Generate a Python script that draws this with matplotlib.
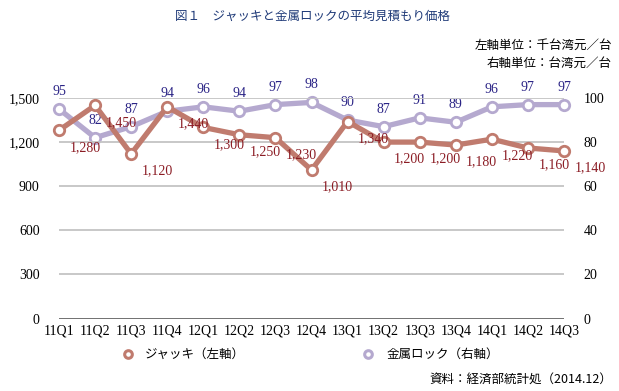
import matplotlib
matplotlib.use('Agg')
import matplotlib.pyplot as plt

plt.rcParams['font.family'] = ['Liberation Serif', 'Noto Sans CJK JP']

quarters = ['11Q1', '11Q2', '11Q3', '11Q4', '12Q1', '12Q2', '12Q3', '12Q4',
            '13Q1', '13Q2', '13Q3', '13Q4', '14Q1', '14Q2', '14Q3']
jack = [1280, 1450, 1120, 1440, 1300, 1250, 1230, 1010,
        1340, 1200, 1200, 1180, 1220, 1160, 1140]
lock = [95, 82, 87, 94, 96, 94, 97, 98, 90, 87, 91, 89, 96, 97, 97]

jack_col = '#c07b6e'
lock_col = '#b5a9cf'
jack_txt = '#8b1c24'
lock_txt = '#2b2486'

fig = plt.figure(figsize=(6.19, 3.91), dpi=100)
ax = fig.add_axes([59/619, 1-318.5/391, 505/619, 220.5/391])
ax2 = ax.twinx()

x = list(range(len(quarters)))

ax.set_zorder(ax2.get_zorder() + 1)
ax.patch.set_visible(False)

ax2.plot(x, lock, color=lock_col, lw=3.8, marker='o', ms=7.5, mfc='white',
         mec=lock_col, mew=2, solid_capstyle='round', clip_on=False)
ax.plot(x, jack, color=jack_col, lw=3.8, marker='o', ms=7.5, mfc='white',
        mec=jack_col, mew=2, solid_capstyle='round', clip_on=False)

for i, v in enumerate(lock):
    ax2.annotate(str(v), (i, v), xytext=(0, 11), textcoords='offset pixels',
                 ha='center', va='bottom', fontsize=10, color=lock_txt)
for i, v in enumerate(jack):
    ax.annotate(f'{v:,}', (i, v), xytext=(26, -17), textcoords='offset pixels',
                ha='center', va='center', fontsize=10, color=jack_txt)

ax.set_xlim(0, 14)
ax.set_ylim(0, 1500)
ax2.set_ylim(0, 100)
ax.set_yticks([0, 300, 600, 900, 1200, 1500])
ax.set_yticklabels(['0', '300', '600', '900', '1,200', '1,500'])
ax2.set_yticks([0, 20, 40, 60, 80, 100])
ax.set_xticks(x)
ax.set_xticklabels(quarters)

ax.grid(axis='y', color='#c4c4c4', lw=1.3)
ax.set_axisbelow(True)
for a in (ax, ax2):
    for s in ('top', 'left', 'right', 'bottom'):
        a.spines[s].set_visible(False)
ax.axhline(0, color='#6a6a6a', lw=2, zorder=1)
ax.tick_params(axis='both', length=0, labelsize=10)
ax.tick_params(axis='x', pad=4)
ax.tick_params(axis='y', pad=14)
ax2.tick_params(axis='y', length=0, labelsize=10, pad=14)

# legend
ly = 1-354/391
fig.lines.append(plt.Line2D([128/619], [ly], transform=fig.transFigure, marker='o',
                            ms=5.5, mfc='white', mec=jack_col, mew=2.2))
fig.text(145/619, ly, 'ジャッキ（左軸）', fontsize=9, va='center', ha='left',
         family=['Noto Sans CJK JP'])
fig.lines.append(plt.Line2D([368/619], [ly], transform=fig.transFigure, marker='o',
                            ms=5.5, mfc='white', mec=lock_col, mew=2.2))
fig.text(387/619, ly, '金属ロック（右軸）', fontsize=9, va='center', ha='left',
         family=['Noto Sans CJK JP'])

fig.text(312/619, 1-16/391, '図１　ジャッキと金属ロックの平均見積もり価格', fontsize=9,
         ha='center', va='center', color='#1f3a78', family=['Noto Sans CJK JP'])
fig.text(612/619, 1-45/391, '左軸単位：千台湾元／台', fontsize=9, ha='right',
         va='center', family=['Noto Sans CJK JP'])
fig.text(612/619, 1-63/391, '右軸単位：台湾元／台', fontsize=9, ha='right',
         va='center', family=['Noto Sans CJK JP'])
fig.text(612/619, 1-379/391, '資料：経済部統計処（2014.12）', fontsize=9,
         ha='right', va='center', family=['Noto Sans CJK JP', 'DejaVu Sans'])

fig.savefig('out.png', dpi=100, facecolor='white')
